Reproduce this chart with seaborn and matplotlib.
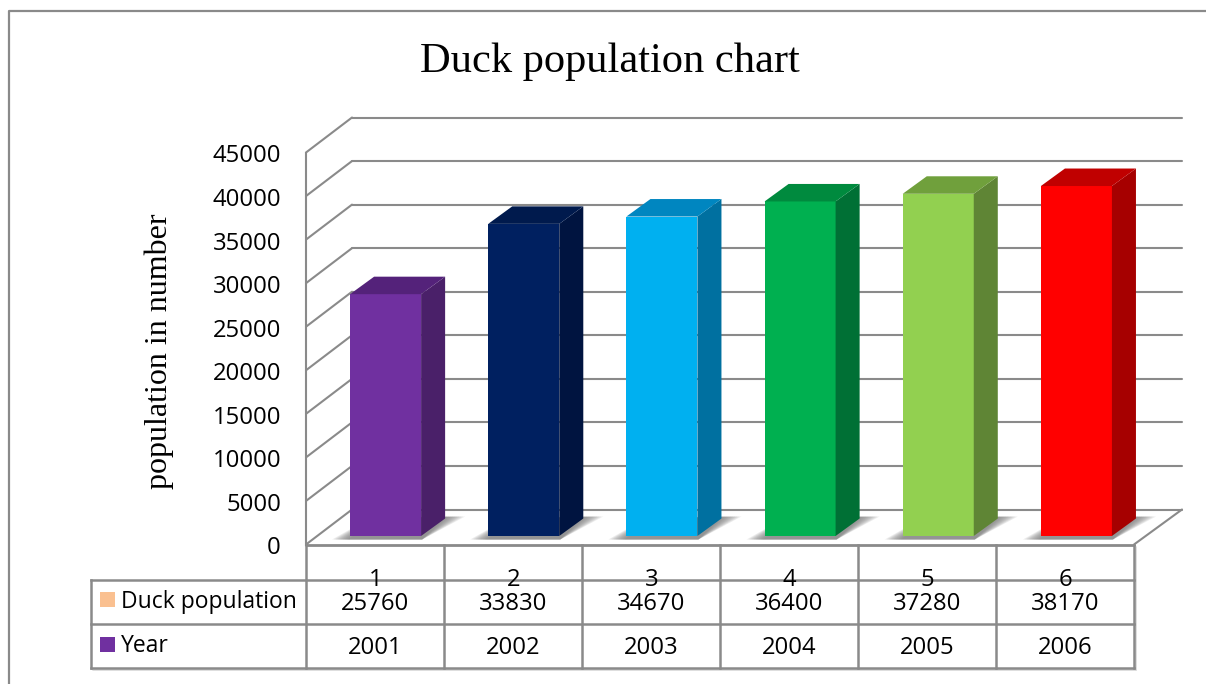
import matplotlib
matplotlib.use("Agg")
import matplotlib.pyplot as plt
import matplotlib.transforms as mtrans
import pandas as pd
import seaborn as sns
from matplotlib.patches import Polygon, Rectangle

# Chart data
positions = ["1", "2", "3", "4", "5", "6"]
population = [25760, 33830, 34670, 36400, 37280, 38170]
years = [2001, 2002, 2003, 2004, 2005, 2006]
y_ticks = [0, 5000, 10000, 15000, 20000, 25000, 30000, 35000, 40000, 45000]

# Face colours of each column
front_colors = ["#7030A0", "#002060", "#00B0F0", "#00B050", "#92D050", "#FF0000"]
side_colors = ["#4A2069", "#001440", "#0070A0", "#007035", "#5F8535", "#A60000"]
top_colors = ["#54227A", "#001A4D", "#0086C0", "#008A3E", "#70A03C", "#C00000"]

W, H = 1206, 684
LINE = "#8A8A8A"
SANS = "Open Sans"
SERIF = "Liberation Serif"

sns.set_theme(style="white")
fig = plt.figure(figsize=(W / 100, H / 100), dpi=100, facecolor="white")


def px_axes(left, top, right, bottom, **kw):
    return fig.add_axes([left / W, 1 - bottom / H, (right - left) / W, (bottom - top) / H], **kw)


# Pixel-addressed layer for the frame and the data table
page = px_axes(0, 0, W, H, zorder=1)
page.set_xlim(0, W)
page.set_ylim(H, 0)
page.axis("off")

# Walls and floor: 5000 units span 43.6 px, the back wall sits up and to the right
PX_PER_UNIT = 392 / 45000
DEPTH_X, DEPTH_Y = 46, 35 / PX_PER_UNIT
wall = px_axes(306, 116, 1182, 544.5, zorder=2)
wall.set_xlim(0, 876)
wall.set_ylim(0, 428.5 / PX_PER_UNIT)
wall.patch.set_alpha(0)
for name in ["top", "right", "bottom"]:
    wall.spines[name].set_visible(False)
wall.spines["left"].set_bounds(0, 45000)
wall.spines["left"].set_color(LINE)
wall.spines["left"].set_linewidth(1.5)
wall.set_xticks([])
wall.set_yticks(y_ticks)
wall.tick_params(axis="y", length=0, pad=18, labelsize=17.2, labelcolor="black")
label_shift = mtrans.ScaledTranslation(0, -1.0 / 100, fig.dpi_scale_trans)
for lab in wall.get_yticklabels():
    lab.set_fontfamily(SANS)
    lab.set_transform(lab.get_transform() + label_shift)
for v in y_ticks:
    wall.plot([0, DEPTH_X], [v, v + DEPTH_Y], color=LINE, lw=1.5, clip_on=False, solid_capstyle="round")
    wall.plot([DEPTH_X, 876], [v + DEPTH_Y, v + DEPTH_Y], color=LINE, lw=1.5, clip_on=False)
wall.plot([828, 876], [0, DEPTH_Y], color=LINE, lw=1.5, clip_on=False)
wall.plot([0, 828], [0, 0], color=LINE, lw=2, clip_on=False)
wall.set_ylabel("")

# Columns: population stacked with year, both segments in the column colour
frame = pd.DataFrame({
    "position": positions,
    "population": population,
    "year": years,
})
frame["total"] = frame["population"] + frame["year"]

ax = px_axes(316.5, 536 - 392, 1145.5, 536, zorder=3)
ax.patch.set_alpha(0)
palette = dict(zip(positions, front_colors))
sns.barplot(data=frame, x="position", y="total", hue="position", order=positions,
            hue_order=positions, palette=palette, saturation=1, width=0.514,
            dodge=False, legend=False, ax=ax, linewidth=0)
totals = list(ax.patches)
sns.barplot(data=frame, x="position", y="population", hue="position", order=positions,
            hue_order=positions, palette=palette, saturation=1, width=0.514,
            dodge=False, legend=False, ax=ax, linewidth=0)
ax.set_xlim(-0.5, 5.5)
ax.set_ylim(0, 45000)
ax.axis("off")

# Depth of a column and its soft floor shadow
dx, dy = 24 / 138, 17.5 / PX_PER_UNIT
ux, uy = 1 / 138, 1 / PX_PER_UNIT
for bar, top_c, side_c in zip(totals, top_colors, side_colors):
    x0, x1, h = bar.get_x(), bar.get_x() + bar.get_width(), bar.get_height()
    steps = 10
    for i in range(steps):
        f = (steps - i) / steps
        shadow = [
            (x0 - 18 * ux * f, -3.5 * uy),
            (x1 + 1 * ux, -3.5 * uy),
            (x1 + dx + 20 * ux * f, dy + 2 * uy),
            (x0 + dx - 5 * ux * f, dy),
        ]
        ax.add_patch(Polygon(shadow, closed=True, fc="#707070", ec="none", alpha=0.12,
                             clip_on=False, zorder=0.5))
    ax.add_patch(Polygon([(x1, 0), (x1 + dx, dy), (x1 + dx, h + dy), (x1, h)],
                         closed=True, fc=side_c, ec="none", clip_on=False, zorder=2))
    ax.add_patch(Polygon([(x0, h), (x0 + dx, h + dy), (x1 + dx, h + dy), (x1, h)],
                         closed=True, fc=top_c, ec="none", clip_on=False, zorder=2))

# Outer frame of the chart area
page.plot([9, 9, W], [H, 11, 11], color=LINE, lw=1.6, clip_on=False)

# Data table grid with a faint drop shadow on its lower right
col_edges = [306, 444, 582, 720, 858, 996, 1134]
row_edges = [580, 624, 668]
page.plot([1136, 1136], [547, 670], color="#D8D8D8", lw=1.2)
page.plot([93, 1136], [670, 670], color="#D8D8D8", lw=1.2)
for x in col_edges:
    page.plot([x, x], [545, 668], color=LINE, lw=1.8, solid_capstyle="projecting")
page.plot([91, 91], [580, 668], color=LINE, lw=1.8, solid_capstyle="projecting")
for y in row_edges:
    page.plot([91, 1134], [y, y], color=LINE, lw=1.8, solid_capstyle="projecting")

# Table text and legend keys
centers = [(a + b) / 2 for a, b in zip(col_edges[:-1], col_edges[1:])]
for cx, pos, pop, yr in zip(centers, positions, population, years):
    page.text(cx + 0.5, 580, pos, ha="center", va="center", fontsize=17.2, family=SANS, color="black", zorder=5)
    page.text(cx + 0.5, 603.5, str(pop), ha="center", va="center", fontsize=17.2, family=SANS, color="black")
    page.text(cx + 0.5, 647.5, str(yr), ha="center", va="center", fontsize=17.2, family=SANS, color="black")
page.add_patch(Rectangle((100, 592), 15, 15, fc="#FAC090", ec="none"))
page.add_patch(Rectangle((100, 637), 15, 15, fc="#7030A0", ec="none"))
page.text(121, 601.5, "Duck population", ha="left", va="center", fontsize=16.5, family=SANS, color="black")
page.text(121, 646, "Year", ha="left", va="center", fontsize=16.5, family=SANS, color="black")

# Title and value-axis caption
page.text(609.5, 62, "Duck population chart", ha="center", va="center", fontsize=30.6,
          family=SERIF, color="black")
page.text(159.5, 351, "population in number", rotation=90, ha="center", va="center",
          fontsize=23, family=SERIF, color="black")

fig.savefig("out.png", dpi=100, facecolor="white")
